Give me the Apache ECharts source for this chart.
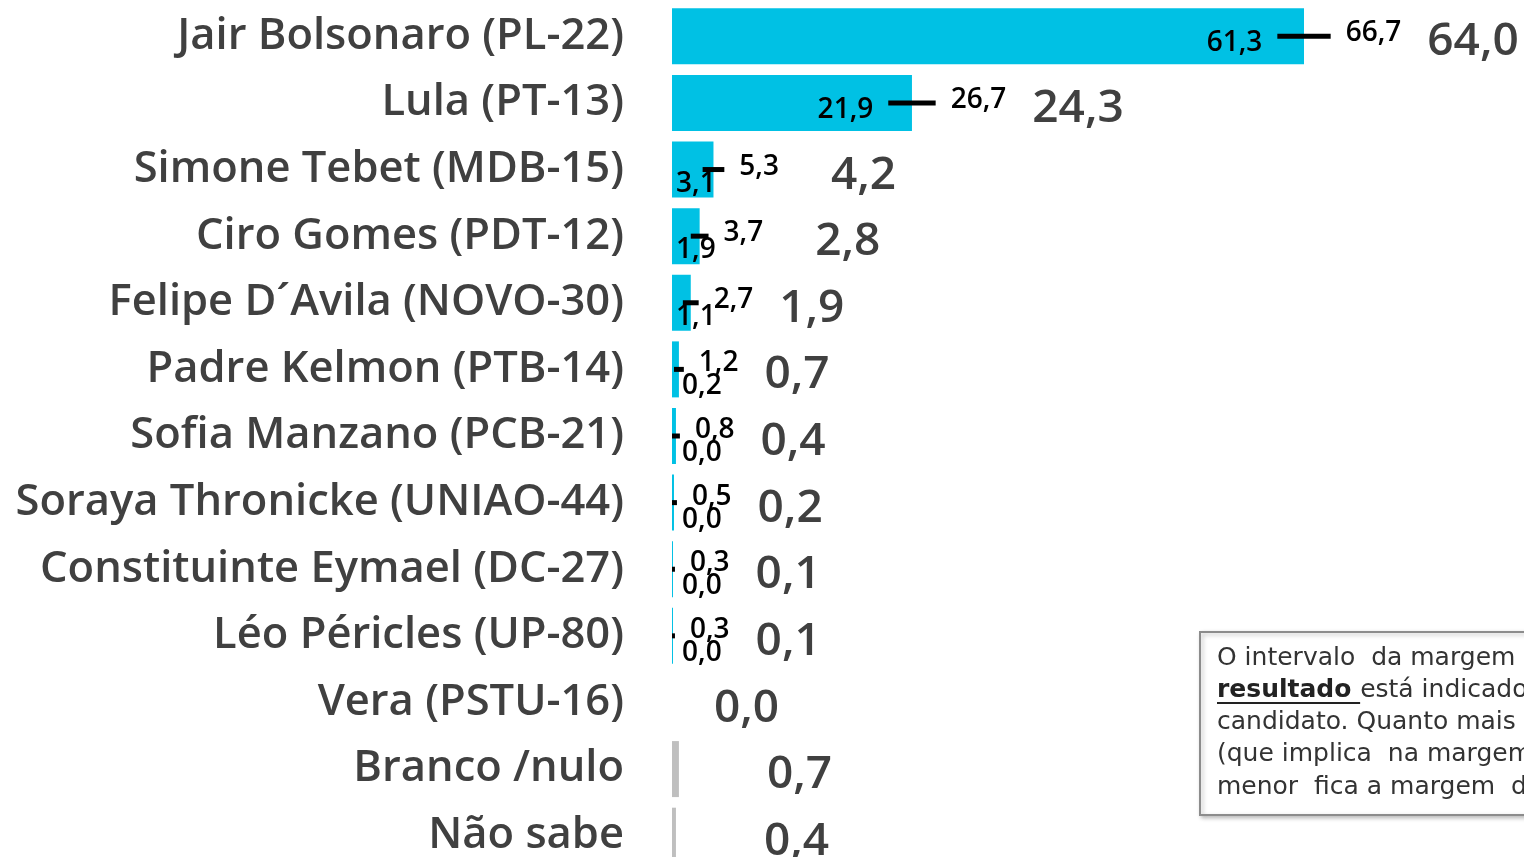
<!DOCTYPE html>
<html>
<head>
<meta charset="utf-8">
<script src="https://cdn.jsdelivr.net/npm/echarts@6/dist/echarts.min.js"></script>
<style>
  html, body { margin: 0; background: #fff; }
  #main { width: 1524px; height: 857px; }
</style>
</head>
<body>
<div id="main"></div>
<script>
// dados da pesquisa
var categories = [
  'Jair Bolsonaro (PL-22)', 'Lula (PT-13)', 'Simone Tebet (MDB-15)', 'Ciro Gomes (PDT-12)',
  'Felipe D\u00b4Avila (NOVO-30)', 'Padre Kelmon (PTB-14)', 'Sofia Manzano (PCB-21)',
  'Soraya Thronicke (UNIAO-44)', 'Constituinte Eymael (DC-27)', 'L\u00e9o P\u00e9ricles (UP-80)',
  'Vera (PSTU-16)', 'Branco /nulo', 'N\u00e3o sabe'
]
var values = [64.0, 24.3, 4.2, 2.8, 1.9, 0.7, 0.4, 0.2, 0.1, 0.1, 0.0, 0.7, 0.4]
var lows = [61.3, 21.9, 3.1, 1.9, 1.1, 0.2, 0.0, 0.0, 0.0, 0.0, null, null, null]
var highs = [66.7, 26.7, 5.3, 3.7, 2.7, 1.2, 0.8, 0.5, 0.3, 0.3, null, null, null]
var greyRows = ['Branco /nulo', 'N\u00e3o sabe']

var FONT = '"Open Sans", "Noto Sans", sans-serif'
var smallFont = '600 28px ' + FONT
var bigFont = '600 46px ' + FONT
var noteFont = '25px "DejaVu Sans", sans-serif'
var noteBold = 'bold 25px "DejaVu Sans", sans-serif'

var ctx = document.createElement('canvas').getContext('2d')
function textW (s, font) {
  ctx.font = font
  return ctx.measureText(s).width
}
function fmt (v) {
  return v.toFixed(1).replace('.', ',')
}

var chart = echarts.init(document.getElementById('main'))

var option = {
  backgroundColor: '#fff',
  animation: false,
  grid: { left: 672, top: 3, width: 790, height: 866, outerBoundsMode: 'none', containLabel: false },
  xAxis: {
    type: 'value',
    min: 0,
    max: 80,
    show: false
  },
  yAxis: {
    type: 'category',
    data: categories,
    inverse: true,
    axisLine: { show: false },
    axisTick: { show: false },
    axisLabel: {
      margin: 48,
      color: '#404040',
      fontSize: 43.5,
      fontWeight: 600,
      fontFamily: FONT,
      padding: [4, 0, 0, 0]
    }
  },
  series: [{
    type: 'bar',
    barWidth: 56,
    data: values.map(function (v, i) {
      return {
        value: v,
        itemStyle: { color: greyRows.indexOf(categories[i]) >= 0 ? '#bfbfbf' : '#00c1e4' }
      }
    })
  }, {
    type: 'custom',
    encode: { x: [1, 2, 3], y: 0 },
    data: values.map(function (v, i) {
      return [i, v, lows[i] == null ? '-' : lows[i], highs[i] == null ? '-' : highs[i]]
    }),
    renderItem: function (params, api) {
      var idx = api.value(0)
      var val = api.value(1)
      var lo = api.value(2)
      var hi = api.value(3)
      var base = api.coord([0, idx])
      var y = base[1]
      var children = []
      var bigX
      if (!isNaN(lo) && !isNaN(hi)) {
        var xLo = api.coord([lo, idx])[0]
        var xHi = api.coord([hi, idx])[0]
        var tiny = lo < 1
        // barra de erro
        children.push({
          type: 'rect',
          shape: { x: xLo, y: y - 2.5, width: Math.max(xHi - xLo, 2), height: 5 },
          style: { fill: '#000' }
        })
        var loTxt = fmt(lo)
        var loW = textW(loTxt, smallFont)
        children.push({
          type: 'text',
          x: Math.max(xLo - 15, base[0] + loW + (tiny ? 10 : 4)),
          y: y + (xLo - base[0] > 80 ? 7 : (tiny ? 17 : 14)),
          style: { text: loTxt, font: smallFont, fill: '#000', align: 'right', verticalAlign: 'middle' }
        })
        var hiTxt = fmt(hi)
        children.push({
          type: 'text',
          x: xHi + 15,
          y: y - (tiny ? 6 : 3),
          style: { text: hiTxt, font: smallFont, fill: '#000', align: 'left', verticalAlign: 'middle' }
        })
        bigX = xHi + 15 + textW(hiTxt, smallFont) + (hi >= 3 && hi < 10 ? 52 : 26)
      } else {
        var xv = api.coord([val, idx])[0]
        bigX = val > 0 ? xv + 88 : xv + 42
      }
      children.push({
        type: 'text',
        x: bigX,
        y: y + 6,
        style: { text: fmt(val), font: bigFont, fill: '#404040', align: 'left', verticalAlign: 'middle' }
      })
      return { type: 'group', children: children }
    },
    z: 5
  }],
  graphic: [{
    type: 'group',
    left: 1199,
    top: 631,
    children: [{
      type: 'rect',
      shape: { x: 0, y: 0, width: 420, height: 183 },
      style: {
        fill: '#fff', stroke: '#8c8c8c', lineWidth: 2,
        shadowBlur: 4, shadowOffsetX: 2, shadowOffsetY: 2, shadowColor: 'rgba(0,0,0,0.25)'
      }
    }, {
      type: 'text', x: 17, y: 26,
      style: { text: 'O intervalo  da margem  de erro', font: noteFont, fill: '#333', verticalAlign: 'middle' }
    }, {
      type: 'text', x: 17, y: 58,
      style: {
        text: '{b|resultado }est\u00e1 indicado ao lado',
        font: noteFont, fill: '#333', verticalAlign: 'middle',
        rich: { b: { font: noteBold, fill: '#222' } }
      }
    }, {
      type: 'line', shape: { x1: 17, y1: 71, x2: 17 + textW('resultado ', noteBold), y2: 71 },
      style: { stroke: '#222', lineWidth: 2 }
    }, {
      type: 'text', x: 17, y: 90,
      style: { text: 'candidato. Quanto mais ampla', font: noteFont, fill: '#333', verticalAlign: 'middle' }
    }, {
      type: 'text', x: 17, y: 122,
      style: { text: '(que implica  na margem  de erro)', font: noteFont, fill: '#333', verticalAlign: 'middle' }
    }, {
      type: 'text', x: 17, y: 155,
      style: { text: 'menor  fica a margem  de erro.', font: noteFont, fill: '#333', verticalAlign: 'middle' }
    }]
  }]
}

chart.setOption(option)
window.onresize = chart.resize
</script>
</body>
</html>
